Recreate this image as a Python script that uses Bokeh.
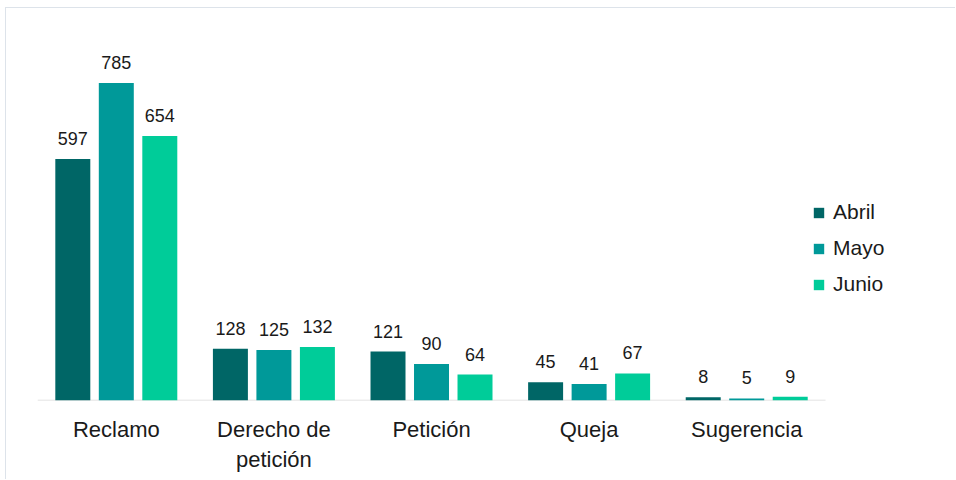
from bokeh.plotting import figure
from bokeh.models import ColumnDataSource, Range1d, Legend, LegendItem, FixedTicker
from bokeh.transform import dodge
from bokeh.embed import file_html
from bokeh.resources import INLINE
from bokeh.core.properties import value

categories = ["Reclamo", "Derecho de\npetición", "Petición", "Queja", "Sugerencia"]
series = ["Abril", "Mayo", "Junio"]
abril = [597, 128, 121, 45, 8]
mayo = [785, 125, 90, 41, 5]
junio = [654, 132, 64, 67, 9]
colors = ["#006666", "#009999", "#00CC99"]

idx = list(range(len(categories)))
src = ColumnDataSource(dict(x=idx, Abril=abril, Mayo=mayo, Junio=junio,
                            Abril_t=[str(v) for v in abril],
                            Mayo_t=[str(v) for v in mayo],
                            Junio_t=[str(v) for v in junio]))

p = figure(width=950, height=472, x_range=Range1d(-0.5, 5.293),
           y_range=Range1d(0, 900), output_backend="svg", toolbar_location=None,
           min_border_left=31, min_border_right=6, min_border_top=28, min_border_bottom=80,
           styles={"margin-left": "5px", "margin-top": "7px",
                   "border-left": "1px solid #dde3ea", "border-top": "1px solid #dde3ea"})

# baseline (category axis line)
p.segment(x0=[-0.5], y0=[0], x1=[len(categories) - 0.5], y1=[0],
          line_color="#d9d9d9", line_width=1.5)

offsets = [-0.276, 0.0, 0.276]
renderers = []
for s, c, off in zip(series, colors, offsets):
    r = p.vbar(x=dodge("x", off), top=s, width=0.222, source=src,
               fill_color=c, line_color=None)
    renderers.append(r)
    p.text(x=dodge("x", off), y=s, text=s + "_t", source=src,
           text_align="center", text_baseline="bottom", y_offset=-14,
           text_font=value("Liberation Sans"), text_font_size="18px", text_color="#1a1a1a")

legend = Legend(items=[LegendItem(label=s, renderers=[r]) for s, r in zip(series, renderers)],
                location=(775, 104), padding=0, margin=0, spacing=12,
                glyph_width=13, glyph_height=13, label_standoff=8, label_height=20,
                label_text_font="Liberation Sans", label_text_font_size="21px",
                label_text_color="#1a1a1a", border_line_color=None, background_fill_alpha=0)
p.add_layout(legend, "center")

p.yaxis.visible = False
p.xgrid.visible = False
p.ygrid.visible = False
p.outline_line_color = None
p.xaxis.ticker = FixedTicker(ticks=idx)
p.xaxis.major_label_overrides = {i: c for i, c in zip(idx, categories)}
p.xaxis.axis_line_color = None
p.xaxis.major_tick_line_color = None
p.xaxis.minor_tick_line_color = None
p.xaxis.major_label_standoff = 10
p.xaxis.major_label_text_font = "Liberation Sans"
p.xaxis.major_label_text_font_size = "22px"
p.xaxis.major_label_text_color = "#1a1a1a"

open("out.html", "w").write(file_html(p, INLINE))
